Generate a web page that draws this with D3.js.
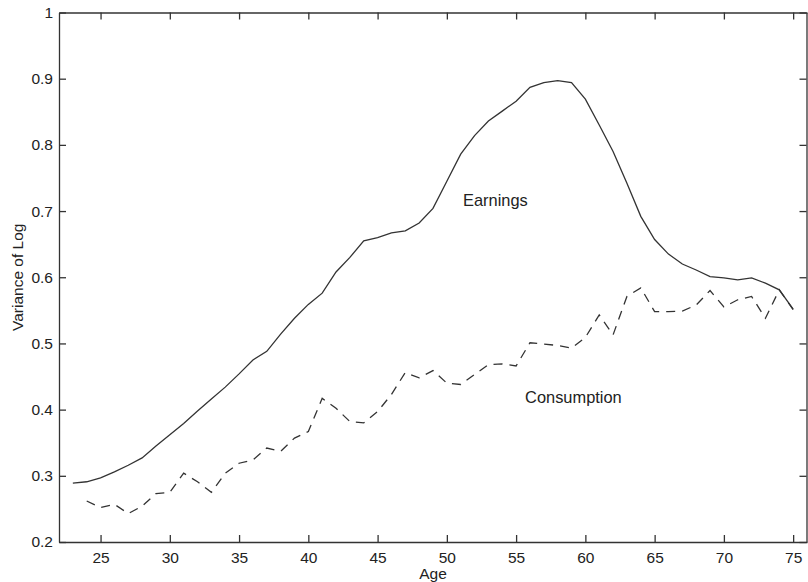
<!DOCTYPE html>
<html>
<head>
<meta charset="utf-8">
<script src="https://cdn.jsdelivr.net/npm/d3@7"></script>
<style>
  body { margin: 0; background: #fff; }
  text { font-family: "Liberation Sans", Arial, Helvetica, sans-serif; fill: #222; }
</style>
</head>
<body>
<div id="variance-vis"></div>
<script>
// ages on the x axis
var ages = d3.range(23, 76);

// variance of log earnings, ages 23..75
var earnings = [0.289, 0.291, 0.297, 0.306, 0.316, 0.327, 0.345, 0.362, 0.379, 0.398,
  0.416, 0.434, 0.454, 0.475, 0.488, 0.514, 0.538, 0.559, 0.576, 0.608,
  0.630, 0.655, 0.660, 0.667, 0.670, 0.682, 0.704, 0.745, 0.786, 0.814,
  0.836, 0.851, 0.866, 0.887, 0.894, 0.897, 0.894, 0.869, 0.830, 0.790,
  0.742, 0.692, 0.657, 0.635, 0.620, 0.611, 0.601, 0.599, 0.596, 0.599,
  0.591, 0.581, 0.552];

// variance of log consumption, ages 24..75
var consAges = d3.range(24, 76);
var consumption = [0.262, 0.252, 0.257, 0.243, 0.254, 0.273, 0.275, 0.304, 0.291, 0.275,
  0.304, 0.319, 0.324, 0.342, 0.337, 0.357, 0.367, 0.417, 0.402, 0.382,
  0.380, 0.397, 0.423, 0.456, 0.448, 0.459, 0.440, 0.438, 0.453, 0.468,
  0.469, 0.466, 0.501, 0.499, 0.497, 0.493, 0.509, 0.543, 0.513, 0.571,
  0.584, 0.548, 0.548, 0.549, 0.558, 0.580, 0.555, 0.566, 0.571, 0.538,
  0.581, 0.551];

var xTicks = [25, 30, 35, 40, 45, 50, 55, 60, 65, 70, 75];
var yTicks = [0.2, 0.3, 0.4, 0.5, 0.6, 0.7, 0.8, 0.9, 1];

VarianceVis = function(_parentElement) {
  this.parentElement = _parentElement;
  this.initVis();
  this.updateVis();
};

VarianceVis.prototype.initVis = function() {
  var vis = this;

  vis.margin = {'top': 12.5, 'bottom': 40, 'left': 59, 'right': 1};
  vis.width = 808;
  vis.height = 582;

  vis.svg = d3.select("#" + vis.parentElement).append("svg")
    .attr("width", vis.width)
    .attr("height", vis.height);

  vis.xScale = d3.scaleLinear()
    .domain([22, 76])
    .range([vis.margin.left, vis.width - vis.margin.right]);

  vis.yScale = d3.scaleLinear()
    .domain([0.2, 1])
    .range([542, vis.margin.top]);

  var bottom = vis.yScale(0.2);
  var top = vis.yScale(1);
  var left = vis.xScale(22);
  var right = vis.xScale(76);

  // box with inward ticks on all sides
  vis.xAxis = d3.axisBottom(vis.xScale)
    .tickValues(xTicks)
    .tickSizeInner(-7)
    .tickSizeOuter(0)
    .tickPadding(10)
    .tickFormat(d3.format("d"));

  vis.xAxisTop = d3.axisTop(vis.xScale)
    .tickValues(xTicks)
    .tickSizeInner(-7)
    .tickSizeOuter(0)
    .tickFormat("");

  vis.yAxis = d3.axisLeft(vis.yScale)
    .tickValues(yTicks)
    .tickSizeInner(-7)
    .tickSizeOuter(0)
    .tickPadding(6)
    .tickFormat((d) => d === 1 ? "1" : d3.format(".1f")(d));

  vis.yAxisRight = d3.axisRight(vis.yScale)
    .tickValues(yTicks)
    .tickSizeInner(-7)
    .tickSizeOuter(0)
    .tickFormat("");

  vis.svg.append("g")
    .attr("class", "x-axis axis")
    .attr("transform", "translate(0," + bottom + ")")
    .call(vis.xAxis);

  vis.svg.append("g")
    .attr("class", "axis")
    .attr("transform", "translate(0," + top + ")")
    .call(vis.xAxisTop);

  vis.svg.append("g")
    .attr("class", "y-axis axis")
    .attr("transform", "translate(" + left + ",0)")
    .call(vis.yAxis);

  vis.svg.append("g")
    .attr("class", "axis")
    .attr("transform", "translate(" + (right - 0.5) + ",0)")
    .call(vis.yAxisRight);

  vis.svg.selectAll(".axis path, .axis line")
    .attr("stroke", "#333")
    .attr("stroke-width", 1.3);
  vis.svg.selectAll(".axis text")
    .attr("fill", "#222")
    .style("font-size", "15.5px")
    .style("font-family", '"Liberation Sans", Arial, sans-serif');

  vis.svg.append("text")
    .text("Age")
    .attr("x", (left + right) / 2)
    .attr("y", 579)
    .style("text-anchor", "middle")
    .style("font-size", "15.5px");

  vis.svg.append("text")
    .text("Variance of Log")
    .attr("transform", "rotate(-90)")
    .attr("x", -(top + bottom) / 2)
    .attr("y", 23)
    .style("text-anchor", "middle")
    .style("font-size", "15.5px");
};

VarianceVis.prototype.updateVis = function() {
  var vis = this;

  var line = d3.line()
    .x((d) => vis.xScale(d.age))
    .y((d) => vis.yScale(d.value));

  var earnData = ages.map((a, i) => ({age: a, value: earnings[i]}));
  var consData = consAges.map((a, i) => ({age: a, value: consumption[i]}));

  vis.svg.append("path")
    .datum(consData)
    .attr("fill", "none")
    .attr("stroke", "#333")
    .attr("stroke-width", 1.3)
    .attr("stroke-dasharray", "9,7")
    .attr("d", line);

  vis.svg.append("path")
    .datum(earnData)
    .attr("fill", "none")
    .attr("stroke", "#333")
    .attr("stroke-width", 1.3)
    .attr("d", line);

  vis.svg.append("text")
    .text("Earnings")
    .attr("x", vis.xScale(51.17))
    .attr("y", vis.yScale(0.707))
    .style("font-size", "16.4px");

  vis.svg.append("text")
    .text("Consumption")
    .attr("x", vis.xScale(55.65))
    .attr("y", vis.yScale(0.4096))
    .style("font-size", "16.4px");
};

var varianceVis = new VarianceVis("variance-vis");
</script>
</body>
</html>
